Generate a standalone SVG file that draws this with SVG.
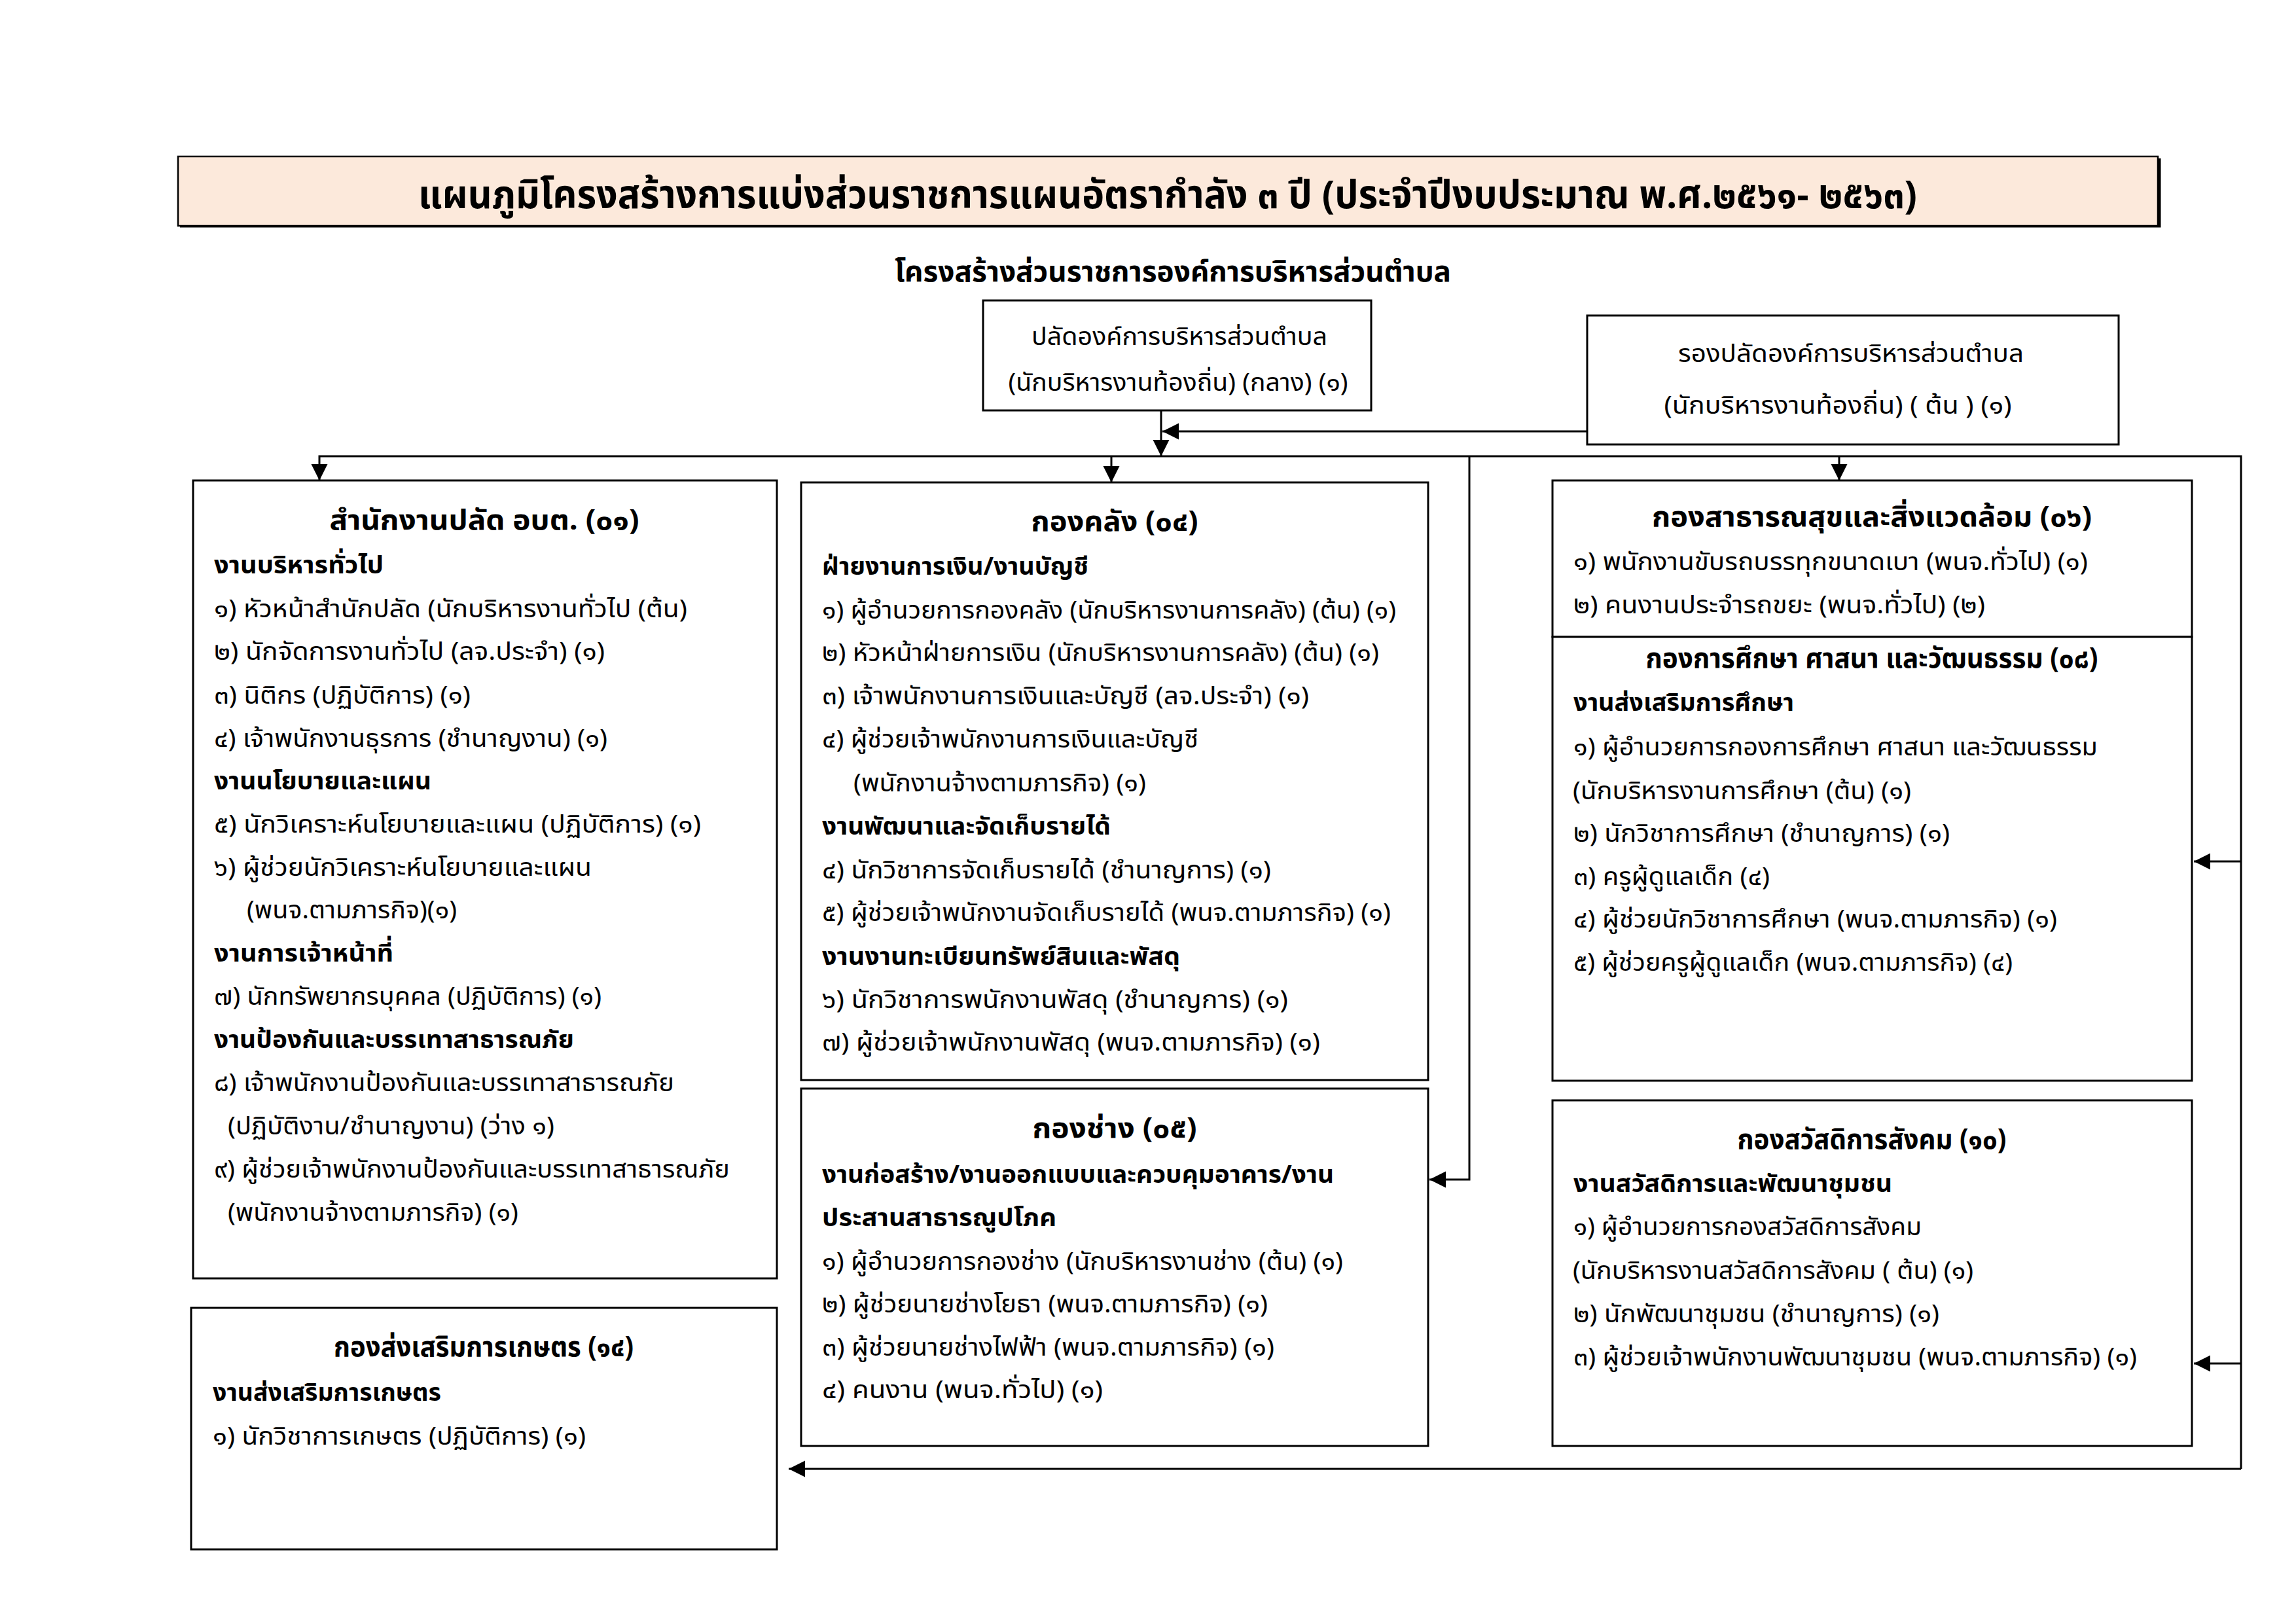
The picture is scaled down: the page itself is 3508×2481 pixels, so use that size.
<svg xmlns="http://www.w3.org/2000/svg" width="3508" height="2481" viewBox="0 0 3508 2481">
<style>
text { font-family: "Noto Sans Thai", "Noto Sans Thai UI", "Noto Sans", "DejaVu Sans", sans-serif; fill: #000; }
.r { font-size: 38px; }
.b { font-size: 38px; font-weight: bold; }
.h { font-size: 43px; font-weight: bold; text-anchor: middle; }
.c { text-anchor: middle; }
.box { fill: #fff; stroke: #000; stroke-width: 3; }
.ln { fill: none; stroke: #000; stroke-width: 3; }
.ar { marker-end: url(#arr); }
</style>
<defs>
<marker id="arr" markerUnits="userSpaceOnUse" markerWidth="26" markerHeight="26" refX="25" refY="12.5" orient="auto">
<path d="M0,0 L25,12.5 L0,25 z" fill="#000"/>
</marker>
</defs>
<rect width="3508" height="2481" fill="#fff"/>

<g id="title">
<path d="M275,345 H3299 V242" fill="none" stroke="#000" stroke-width="5"/>
<rect x="272" y="239" width="3025" height="106" fill="#fce9db" stroke="#000" stroke-width="2.5"/>
<text x="1784" y="318" class="c" style="font-size:60px;font-weight:bold" textLength="2290" lengthAdjust="spacingAndGlyphs">แผนภูมิโครงสร้างการแบ่งส่วนราชการแผนอัตรากำลัง ๓ ปี (ประจำปีงบประมาณ พ.ศ.๒๕๖๑- ๒๕๖๓)</text>
</g>

<g id="subtitle">
<text x="1792" y="430" class="c" style="font-size:45px;font-weight:bold" textLength="850" lengthAdjust="spacingAndGlyphs">โครงสร้างส่วนราชการองค์การบริหารส่วนตำบล</text>
</g>

<g id="connectors">
<path class="ln ar" d="M1774,627 V697"/>
<path class="ln ar" d="M2425,659 H1776"/>
<path class="ln ar" d="M3424,2244 V697 H488 V734"/>
<path class="ln ar" d="M3424,2244 H1205"/>
<path class="ln ar" d="M1698,697 V737"/>
<path class="ln ar" d="M2810,697 V734"/>
<path class="ln ar" d="M2245,697 V1802 H2184"/>
<path class="ln ar" d="M3424,1316 H3352"/>
<path class="ln ar" d="M3424,2083 H3352"/>
</g>

<g id="palad">
<rect class="box" x="1502" y="459" width="593" height="168"/>
<text x="1802" y="527" class="r c" textLength="452" lengthAdjust="spacingAndGlyphs">ปลัดองค์การบริหารส่วนตำบล</text>
<text x="1800" y="597" class="r c" textLength="519" lengthAdjust="spacingAndGlyphs">(นักบริหารงานท้องถิ่น) (กลาง) (๑)</text>
</g>

<g id="rong-palad">
<rect class="box" x="2425" y="482" width="812" height="197"/>
<text x="2828" y="553" class="r c" textLength="528" lengthAdjust="spacingAndGlyphs">รองปลัดองค์การบริหารส่วนตำบล</text>
<text x="2808" y="632" class="r c" textLength="531" lengthAdjust="spacingAndGlyphs">(นักบริหารงานท้องถิ่น) ( ต้น ) (๑)</text>
</g>

<g id="office">
<rect class="box" x="295" y="734" width="892" height="1219"/>
<text x="740" y="809" class="h" textLength="473" lengthAdjust="spacingAndGlyphs">สำนักงานปลัด อบต. (๐๑)</text>
<text x="327" y="876" class="b" textLength="259" lengthAdjust="spacingAndGlyphs">งานบริหารทั่วไป</text>
<text x="327" y="943" class="r" textLength="723" lengthAdjust="spacingAndGlyphs">๑) หัวหน้าสำนักปลัด (นักบริหารงานทั่วไป (ต้น)</text>
<text x="327" y="1008" class="r" textLength="597" lengthAdjust="spacingAndGlyphs">๒) นักจัดการงานทั่วไป (ลจ.ประจำ) (๑)</text>
<text x="327" y="1075" class="r" textLength="392" lengthAdjust="spacingAndGlyphs">๓) นิติกร (ปฏิบัติการ) (๑)</text>
<text x="327" y="1141" class="r" textLength="601" lengthAdjust="spacingAndGlyphs">๔) เจ้าพนักงานธุรการ (ชำนาญงาน) (๑)</text>
<text x="327" y="1206" class="b" textLength="332" lengthAdjust="spacingAndGlyphs">งานนโยบายและแผน</text>
<text x="327" y="1272" class="r" textLength="744" lengthAdjust="spacingAndGlyphs">๕) นักวิเคราะห์นโยบายและแผน (ปฏิบัติการ) (๑)</text>
<text x="327" y="1338" class="r" textLength="577" lengthAdjust="spacingAndGlyphs">๖) ผู้ช่วยนักวิเคราะห์นโยบายและแผน</text>
<text x="377" y="1403" class="r" textLength="321" lengthAdjust="spacingAndGlyphs">(พนจ.ตามภารกิจ)(๑)</text>
<text x="327" y="1469" class="b" textLength="274" lengthAdjust="spacingAndGlyphs">งานการเจ้าหน้าที่</text>
<text x="327" y="1535" class="r" textLength="592" lengthAdjust="spacingAndGlyphs">๗) นักทรัพยากรบุคคล (ปฏิบัติการ) (๑)</text>
<text x="327" y="1601" class="b" textLength="550" lengthAdjust="spacingAndGlyphs">งานป้องกันและบรรเทาสาธารณภัย</text>
<text x="327" y="1667" class="r" textLength="703" lengthAdjust="spacingAndGlyphs">๘) เจ้าพนักงานป้องกันและบรรเทาสาธารณภัย</text>
<text x="348" y="1733" class="r" textLength="499" lengthAdjust="spacingAndGlyphs">(ปฏิบัติงาน/ชำนาญงาน) (ว่าง ๑)</text>
<text x="327" y="1799" class="r" textLength="788" lengthAdjust="spacingAndGlyphs">๙) ผู้ช่วยเจ้าพนักงานป้องกันและบรรเทาสาธารณภัย</text>
<text x="348" y="1865" class="r" textLength="444" lengthAdjust="spacingAndGlyphs">(พนักงานจ้างตามภารกิจ) (๑)</text>
</g>

<g id="agri">
<rect class="box" x="292" y="1998" width="895" height="369"/>
<text x="739" y="2072" class="h" textLength="458" lengthAdjust="spacingAndGlyphs">กองส่งเสริมการเกษตร (๑๔)</text>
<text x="325" y="2140" class="b" textLength="349" lengthAdjust="spacingAndGlyphs">งานส่งเสริมการเกษตร</text>
<text x="325" y="2207" class="r" textLength="570" lengthAdjust="spacingAndGlyphs">๑) นักวิชาการเกษตร (ปฏิบัติการ) (๑)</text>
</g>

<g id="finance">
<rect class="box" x="1224" y="737" width="958" height="913"/>
<text x="1703" y="811" class="h" textLength="255" lengthAdjust="spacingAndGlyphs">กองคลัง (๐๔)</text>
<text x="1256" y="878" class="b" textLength="407" lengthAdjust="spacingAndGlyphs">ฝ่ายงานการเงิน/งานบัญชี</text>
<text x="1256" y="945" class="r" textLength="877" lengthAdjust="spacingAndGlyphs">๑) ผู้อำนวยการกองคลัง (นักบริหารงานการคลัง) (ต้น) (๑)</text>
<text x="1256" y="1010" class="r" textLength="851" lengthAdjust="spacingAndGlyphs">๒) หัวหน้าฝ่ายการเงิน (นักบริหารงานการคลัง) (ต้น) (๑)</text>
<text x="1256" y="1076" class="r" textLength="744" lengthAdjust="spacingAndGlyphs">๓) เจ้าพนักงานการเงินและบัญชี (ลจ.ประจำ) (๑)</text>
<text x="1256" y="1142" class="r" textLength="575" lengthAdjust="spacingAndGlyphs">๔) ผู้ช่วยเจ้าพนักงานการเงินและบัญชี</text>
<text x="1304" y="1209" class="r" textLength="447" lengthAdjust="spacingAndGlyphs">(พนักงานจ้างตามภารกิจ) (๑)</text>
<text x="1256" y="1275" class="b" textLength="441" lengthAdjust="spacingAndGlyphs">งานพัฒนาและจัดเก็บรายได้</text>
<text x="1256" y="1342" class="r" textLength="686" lengthAdjust="spacingAndGlyphs">๔) นักวิชาการจัดเก็บรายได้ (ชำนาญการ) (๑)</text>
<text x="1256" y="1407" class="r" textLength="869" lengthAdjust="spacingAndGlyphs">๕) ผู้ช่วยเจ้าพนักงานจัดเก็บรายได้ (พนจ.ตามภารกิจ) (๑)</text>
<text x="1256" y="1474" class="b" textLength="547" lengthAdjust="spacingAndGlyphs">งานงานทะเบียนทรัพย์สินและพัสดุ</text>
<text x="1256" y="1540" class="r" textLength="712" lengthAdjust="spacingAndGlyphs">๖) นักวิชาการพนักงานพัสดุ   (ชำนาญการ) (๑)</text>
<text x="1256" y="1605" class="r" textLength="761" lengthAdjust="spacingAndGlyphs">๗) ผู้ช่วยเจ้าพนักงานพัสดุ   (พนจ.ตามภารกิจ) (๑)</text>
</g>

<g id="engineering">
<rect class="box" x="1224" y="1663" width="958" height="546"/>
<text x="1703" y="1738" class="h" textLength="251" lengthAdjust="spacingAndGlyphs">กองช่าง (๐๕)</text>
<text x="1256" y="1807" class="b" textLength="782" lengthAdjust="spacingAndGlyphs">งานก่อสร้าง/งานออกแบบและควบคุมอาคาร/งาน</text>
<text x="1256" y="1873" class="b" textLength="358" lengthAdjust="spacingAndGlyphs">ประสานสาธารณูปโภค</text>
<text x="1256" y="1940" class="r" textLength="796" lengthAdjust="spacingAndGlyphs">๑) ผู้อำนวยการกองช่าง (นักบริหารงานช่าง (ต้น) (๑)</text>
<text x="1256" y="2005" class="r" textLength="681" lengthAdjust="spacingAndGlyphs">๒) ผู้ช่วยนายช่างโยธา (พนจ.ตามภารกิจ) (๑)</text>
<text x="1256" y="2071" class="r" textLength="691" lengthAdjust="spacingAndGlyphs">๓) ผู้ช่วยนายช่างไฟฟ้า (พนจ.ตามภารกิจ) (๑)</text>
<text x="1256" y="2136" class="r" textLength="429" lengthAdjust="spacingAndGlyphs">๔) คนงาน  (พนจ.ทั่วไป) (๑)</text>
</g>

<g id="health">
<rect class="box" x="2372" y="734" width="977" height="239"/>
<text x="2860" y="804" class="h" textLength="672" lengthAdjust="spacingAndGlyphs">กองสาธารณสุขและสิ่งแวดล้อม (๐๖)</text>
<text x="2404" y="871" class="r" textLength="786" lengthAdjust="spacingAndGlyphs">๑) พนักงานขับรถบรรทุกขนาดเบา (พนจ.ทั่วไป) (๑)</text>
<text x="2404" y="937" class="r" textLength="629" lengthAdjust="spacingAndGlyphs">๒) คนงานประจำรถขยะ (พนจ.ทั่วไป) (๒)</text>
</g>

<g id="education">
<rect class="box" x="2372" y="973" width="977" height="678"/>
<text x="2860" y="1020" class="h" textLength="691" lengthAdjust="spacingAndGlyphs">กองการศึกษา ศาสนา และวัฒนธรรม (๐๘)</text>
<text x="2404" y="1086" class="b" textLength="337" lengthAdjust="spacingAndGlyphs">งานส่งเสริมการศึกษา</text>
<text x="2404" y="1154" class="r" textLength="801" lengthAdjust="spacingAndGlyphs">๑) ผู้อำนวยการกองการศึกษา ศาสนา และวัฒนธรรม</text>
<text x="2403" y="1221" class="r" textLength="517" lengthAdjust="spacingAndGlyphs">(นักบริหารงานการศึกษา (ต้น) (๑)</text>
<text x="2404" y="1286" class="r" textLength="575" lengthAdjust="spacingAndGlyphs">๒) นักวิชาการศึกษา (ชำนาญการ) (๑)</text>
<text x="2404" y="1352" class="r" textLength="300" lengthAdjust="spacingAndGlyphs">๓) ครูผู้ดูแลเด็ก (๔)</text>
<text x="2404" y="1417" class="r" textLength="739" lengthAdjust="spacingAndGlyphs">๔) ผู้ช่วยนักวิชาการศึกษา (พนจ.ตามภารกิจ) (๑)</text>
<text x="2404" y="1483" class="r" textLength="671" lengthAdjust="spacingAndGlyphs">๕) ผู้ช่วยครูผู้ดูแลเด็ก (พนจ.ตามภารกิจ) (๔)</text>
</g>

<g id="welfare">
<rect class="box" x="2372" y="1681" width="977" height="528"/>
<text x="2860" y="1755" class="h" textLength="411" lengthAdjust="spacingAndGlyphs">กองสวัสดิการสังคม (๑๐)</text>
<text x="2404" y="1821" class="b" textLength="487" lengthAdjust="spacingAndGlyphs">งานสวัสดิการและพัฒนาชุมชน</text>
<text x="2404" y="1887" class="r" textLength="532" lengthAdjust="spacingAndGlyphs">๑) ผู้อำนวยการกองสวัสดิการสังคม</text>
<text x="2403" y="1954" class="r" textLength="612" lengthAdjust="spacingAndGlyphs">(นักบริหารงานสวัสดิการสังคม ( ต้น) (๑)</text>
<text x="2404" y="2020" class="r" textLength="559" lengthAdjust="spacingAndGlyphs">๒) นักพัฒนาชุมชน (ชำนาญการ) (๑)</text>
<text x="2404" y="2086" class="r" textLength="861" lengthAdjust="spacingAndGlyphs">๓) ผู้ช่วยเจ้าพนักงานพัฒนาชุมชน (พนจ.ตามภารกิจ) (๑)</text>
</g>
</svg>
